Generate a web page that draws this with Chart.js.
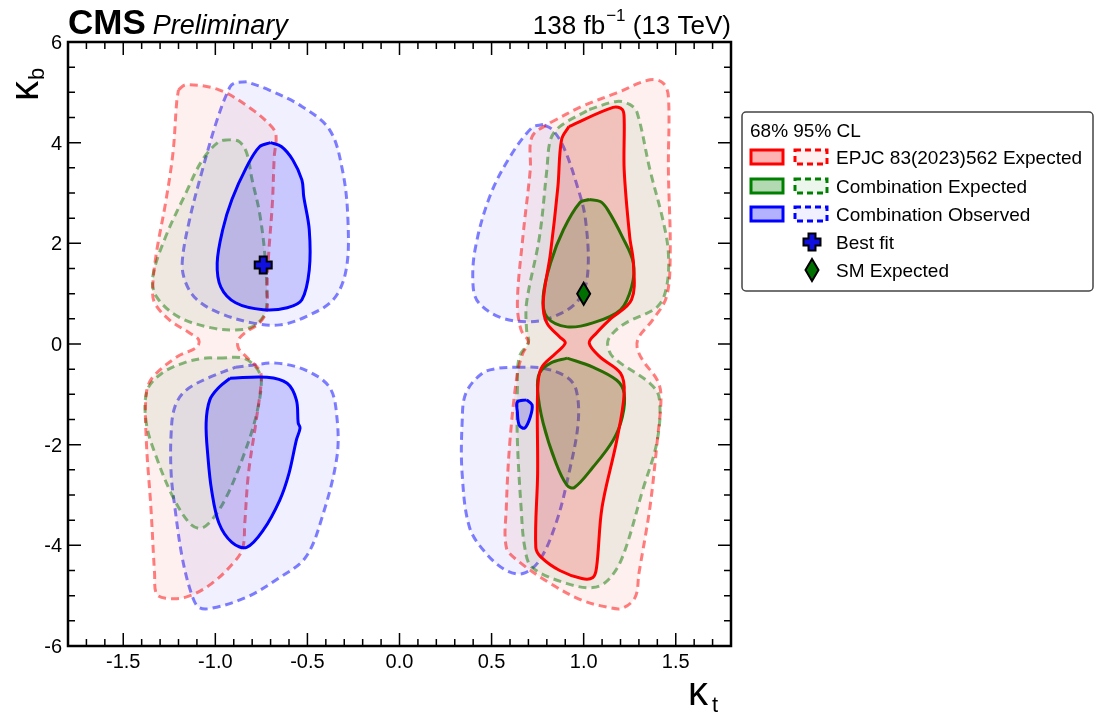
<!DOCTYPE html>
<html>
<head>
<meta charset="utf-8">
<script src="https://cdn.jsdelivr.net/npm/chart.js@4/dist/chart.umd.min.js"></script>
<style>
  body { margin: 0; background: #fff; }
  #wrap { width: 1095px; height: 713px; position: relative; }
</style>
</head>
<body>
<div id="wrap"><canvas id="chart"></canvas></div>
<script>
// contour points [kappa_t, kappa_b]
const red95Left = [[-1.20,5.05],[-1.16,5.15],[-0.98,5.05],[-0.80,4.66],[-0.69,4.30],[-0.67,4.12],[-0.68,3.72],[-0.69,2.81],[-0.71,1.81],[-0.72,1.13],[-0.72,0.68],[-0.76,0.42],[-0.84,0.22],[-0.875,0.08],[-0.875,-0.08],[-0.83,-0.26],[-0.76,-0.52],[-0.75,-0.72],[-0.78,-1.57],[-0.82,-2.57],[-0.84,-3.56],[-0.85,-4.04],[-0.89,-4.30],[-1.02,-4.76],[-1.16,-5.03],[-1.27,-5.05],[-1.32,-4.96],[-1.33,-4.56],[-1.35,-3.24],[-1.375,-1.91],[-1.375,-0.98],[-1.34,-0.66],[-1.21,-0.26],[-1.10,-0.06],[-1.09,0.08],[-1.14,0.22],[-1.25,0.48],[-1.33,0.82],[-1.34,1.13],[-1.32,1.81],[-1.27,2.81],[-1.23,3.80],[-1.21,4.80]];
const red95Right = [[0.82,4.40],[0.99,4.72],[1.18,4.99],[1.36,5.25],[1.43,5.19],[1.46,4.92],[1.46,3.46],[1.47,1.81],[1.45,0.94],[1.375,0.48],[1.30,0.14],[1.29,-0.06],[1.32,-0.32],[1.40,-0.72],[1.42,-1.05],[1.40,-1.91],[1.36,-3.24],[1.30,-4.56],[1.28,-5.03],[1.21,-5.25],[1.13,-5.23],[0.99,-5.09],[0.82,-4.76],[0.64,-4.30],[0.58,-4.04],[0.58,-3.24],[0.60,-1.91],[0.64,-0.58],[0.67,-0.18],[0.70,0.04],[0.66,0.28],[0.64,0.82],[0.67,2.13],[0.71,3.46],[0.72,4.12]];
const red68Right = [[0.92,4.32],[1.16,4.70],[1.21,4.66],[1.22,4.46],[1.22,3.46],[1.25,2.13],[1.27,1.61],[1.26,0.88],[1.14,0.48],[1.07,0.22],[1.03,0.02],[1.09,-0.26],[1.20,-0.58],[1.22,-0.98],[1.18,-1.91],[1.10,-3.24],[1.07,-4.44],[1.05,-4.64],[0.99,-4.66],[0.87,-4.50],[0.77,-4.24],[0.74,-4.04],[0.75,-2.57],[0.75,-0.92],[0.77,-0.48],[0.85,-0.18],[0.90,0.02],[0.87,0.14],[0.80,0.42],[0.78,0.82],[0.82,1.81],[0.86,3.12],[0.88,4.06]];

const green95UpLeft = [[-0.92,4.06],[-0.98,4.02],[-1.07,3.66],[-1.16,3.00],[-1.27,2.13],[-1.34,1.33],[-1.32,0.94],[-1.20,0.54],[-1.02,0.32],[-0.89,0.28],[-0.80,0.34],[-0.74,0.54],[-0.72,0.82],[-0.73,1.73],[-0.76,2.61],[-0.80,3.26],[-0.83,3.80],[-0.87,4.02]];
const green95LowLeft = [[-0.98,-0.28],[-0.85,-0.28],[-0.78,-0.46],[-0.75,-0.72],[-0.78,-1.45],[-0.85,-2.25],[-0.94,-3.04],[-1.02,-3.50],[-1.08,-3.66],[-1.14,-3.56],[-1.23,-3.04],[-1.32,-2.25],[-1.375,-1.57],[-1.37,-0.92],[-1.29,-0.58],[-1.16,-0.36],[-1.05,-0.28]];
const green95Right = [[1.03,4.66],[1.18,4.82],[1.25,4.76],[1.29,4.60],[1.36,3.46],[1.43,2.47],[1.46,1.81],[1.45,1.13],[1.40,0.74],[1.23,0.42],[1.16,0.22],[1.13,0.02],[1.16,-0.26],[1.36,-0.78],[1.41,-1.07],[1.40,-1.91],[1.32,-2.91],[1.21,-4.24],[1.13,-4.70],[1.05,-4.84],[0.91,-4.76],[0.72,-4.44],[0.68,-4.04],[0.66,-3.24],[0.64,-1.91],[0.64,-0.92],[0.65,-0.26],[0.70,0.04],[0.69,0.28],[0.69,0.82],[0.76,2.13],[0.80,3.46],[0.82,4.06],[0.87,4.32]];
const green68UpRight = [[1.03,2.87],[0.98,2.81],[0.89,2.27],[0.82,1.61],[0.78,0.94],[0.80,0.54],[0.91,0.34],[1.05,0.42],[1.20,0.68],[1.26,1.13],[1.27,1.61],[1.21,2.13],[1.13,2.67],[1.09,2.83]];
const green68LowRight = [[0.91,-0.28],[0.82,-0.38],[0.76,-0.58],[0.75,-0.92],[0.78,-1.57],[0.85,-2.37],[0.91,-2.81],[0.95,-2.85],[1.05,-2.45],[1.16,-1.91],[1.21,-1.45],[1.22,-0.98],[1.18,-0.72],[1.05,-0.46]];

const blue95UpLeft = [[-0.83,5.21],[-0.89,5.19],[-0.92,5.11],[-0.99,4.46],[-1.07,3.46],[-1.14,2.47],[-1.18,1.61],[-1.16,1.21],[-1.10,0.88],[-0.98,0.62],[-0.80,0.42],[-0.65,0.38],[-0.51,0.54],[-0.36,0.88],[-0.29,1.47],[-0.28,2.47],[-0.31,3.46],[-0.38,4.26],[-0.53,4.72],[-0.71,5.05]];
const blue95LowLeft = [[-0.89,-0.46],[-0.80,-0.42],[-0.67,-0.38],[-0.51,-0.52],[-0.38,-0.86],[-0.34,-1.45],[-0.34,-2.25],[-0.42,-3.44],[-0.51,-4.24],[-0.65,-4.64],[-0.83,-5.03],[-1.02,-5.25],[-1.09,-5.23],[-1.13,-4.96],[-1.18,-4.24],[-1.22,-3.24],[-1.24,-2.57],[-1.24,-1.77],[-1.22,-1.25],[-1.16,-0.92],[-1.03,-0.66]];
const blue95UpRight = [[0.78,4.36],[0.72,4.30],[0.60,3.72],[0.49,2.93],[0.41,1.87],[0.40,1.13],[0.43,0.82],[0.54,0.54],[0.69,0.44],[0.82,0.52],[0.96,0.82],[1.02,1.33],[1.01,2.47],[0.96,3.20],[0.89,3.92],[0.83,4.26]];
const blue95LowRight = [[0.64,-0.46],[0.78,-0.48],[0.91,-0.66],[0.96,-0.92],[0.97,-1.57],[0.92,-2.57],[0.85,-3.56],[0.76,-4.30],[0.67,-4.56],[0.58,-4.50],[0.47,-4.16],[0.38,-3.64],[0.34,-2.57],[0.34,-1.57],[0.36,-0.98],[0.45,-0.58],[0.54,-0.48]];
const blue68UpLeft = [[-0.70,4.00],[-0.76,3.92],[-0.83,3.52],[-0.91,2.87],[-0.96,2.27],[-0.99,1.61],[-0.97,1.13],[-0.89,0.82],[-0.74,0.68],[-0.61,0.72],[-0.53,0.88],[-0.49,1.47],[-0.49,2.27],[-0.52,2.93],[-0.53,3.26],[-0.58,3.66],[-0.64,3.92]];
const blue68LowLeft = [[-0.92,-0.68],[-0.72,-0.66],[-0.61,-0.78],[-0.56,-1.11],[-0.55,-1.57],[-0.54,-1.67],[-0.56,-1.91],[-0.60,-2.57],[-0.65,-3.10],[-0.74,-3.70],[-0.83,-4.04],[-0.91,-3.94],[-0.98,-3.56],[-1.02,-2.91],[-1.04,-2.25],[-1.05,-1.57],[-1.03,-1.11],[-0.98,-0.86]];
const blue68Right = [[0.69,-1.11],[0.72,-1.21],[0.71,-1.45],[0.68,-1.67],[0.65,-1.61],[0.64,-1.35],[0.64,-1.15]];

const bestFit = [-0.74, 1.57];
const smExpected = [1.0, 1.0];

const xTicks = [-1.5, -1.0, -0.5, 0.0, 0.5, 1.0, 1.5];
const yTicks = [-6, -4, -2, 0, 2, 4, 6];
const legendLabels = ['EPJC 83(2023)562 Expected', 'Combination Expected', 'Combination Observed', 'Best fit', 'SM Expected'];

const FONT = '"Liberation Sans", Arial, Helvetica, sans-serif';

const styles = {
    red:   { line: '#ff0000', line95: 'rgba(255,0,0,0.5)',   fill68: 'rgba(255,0,0,0.16)', fill95: 'rgba(255,0,0,0.06)', box68: 'rgba(255,0,0,0.3)' },
    green: { line: '#008000', line95: 'rgba(0,128,0,0.5)',   fill68: 'rgba(0,128,0,0.18)', fill95: 'rgba(0,128,0,0.07)', box68: 'rgba(0,128,0,0.3)' },
    blue:  { line: '#0000ff', line95: 'rgba(0,0,255,0.5)',   fill68: 'rgba(0,0,255,0.17)', fill95: 'rgba(0,0,255,0.06)', box68: 'rgba(0,0,255,0.3)' }
};

function contour(points, color, level) {
    const s = styles[color];
    const closed = points.concat([points[0]]);
    const is95 = level === 95;
    return {
        data: closed.map(p => ({ x: p[0], y: p[1] })),
        showLine: true,
        fill: 'shape',
        backgroundColor: is95 ? s.fill95 : s.fill68,
        borderColor: is95 ? s.line95 : s.line,
        borderWidth: 3,
        borderDash: is95 ? [8, 5] : [],
        pointRadius: 0,
        tension: 0.35,
        order: is95 ? 2 : 1
    };
}

const datasets = [
    contour(red95Left, 'red', 95),
    contour(red95Right, 'red', 95),
    contour(green95UpLeft, 'green', 95),
    contour(green95LowLeft, 'green', 95),
    contour(green95Right, 'green', 95),
    contour(blue95UpLeft, 'blue', 95),
    contour(blue95LowLeft, 'blue', 95),
    contour(blue95UpRight, 'blue', 95),
    contour(blue95LowRight, 'blue', 95),
    contour(red68Right, 'red', 68),
    contour(green68UpRight, 'green', 68),
    contour(green68LowRight, 'green', 68),
    contour(blue68UpLeft, 'blue', 68),
    contour(blue68LowLeft, 'blue', 68),
    contour(blue68Right, 'blue', 68)
];

function plusPath(ctx, cx, cy, h, t) {
    ctx.beginPath();
    ctx.moveTo(cx - t, cy - h);
    ctx.lineTo(cx + t, cy - h);
    ctx.lineTo(cx + t, cy - t);
    ctx.lineTo(cx + h, cy - t);
    ctx.lineTo(cx + h, cy + t);
    ctx.lineTo(cx + t, cy + t);
    ctx.lineTo(cx + t, cy + h);
    ctx.lineTo(cx - t, cy + h);
    ctx.lineTo(cx - t, cy + t);
    ctx.lineTo(cx - h, cy + t);
    ctx.lineTo(cx - h, cy - t);
    ctx.lineTo(cx - t, cy - t);
    ctx.closePath();
}

function drawCross(ctx, cx, cy) {
    plusPath(ctx, cx, cy, 8.5, 3.5);
    ctx.fillStyle = '#1010e0';
    ctx.fill();
    ctx.lineWidth = 2;
    ctx.strokeStyle = '#000';
    ctx.setLineDash([]);
    ctx.stroke();
}

function drawDiamond(ctx, cx, cy) {
    ctx.beginPath();
    ctx.moveTo(cx, cy - 11);
    ctx.lineTo(cx + 6.5, cy);
    ctx.lineTo(cx, cy + 11);
    ctx.lineTo(cx - 6.5, cy);
    ctx.closePath();
    ctx.fillStyle = '#007000';
    ctx.fill();
    ctx.lineWidth = 2;
    ctx.strokeStyle = '#000';
    ctx.setLineDash([]);
    ctx.stroke();
}

const decorations = {
    id: 'decorations',
    afterDatasetsDraw(chart) {
        const { ctx, chartArea: a, scales: { x, y } } = chart;
        ctx.save();

        // markers
        drawCross(ctx, x.getPixelForValue(bestFit[0]), y.getPixelForValue(bestFit[1]));
        drawDiamond(ctx, x.getPixelForValue(smExpected[0]), y.getPixelForValue(smExpected[1]));

        // frame
        ctx.setLineDash([]);
        ctx.strokeStyle = '#000';
        ctx.lineWidth = 2.5;
        ctx.strokeRect(a.left, a.top, a.right - a.left, a.bottom - a.top);

        // ticks, all four sides, pointing in
        ctx.lineWidth = 1.5;
        ctx.beginPath();
        for (let i = -18; i <= 18; i++) {
            const px = x.getPixelForValue(i / 10);
            const len = (i % 5 === 0) ? 13 : 7;
            ctx.moveTo(px, a.bottom); ctx.lineTo(px, a.bottom - len);
            ctx.moveTo(px, a.top); ctx.lineTo(px, a.top + len);
        }
        for (let i = -12; i <= 12; i++) {
            const py = y.getPixelForValue(i / 2);
            const len = (i % 4 === 0) ? 13 : 7;
            ctx.moveTo(a.left, py); ctx.lineTo(a.left + len, py);
            ctx.moveTo(a.right, py); ctx.lineTo(a.right - len, py);
        }
        ctx.stroke();

        // tick labels
        ctx.fillStyle = '#000';
        ctx.font = '20px ' + FONT;
        ctx.textAlign = 'center';
        ctx.textBaseline = 'alphabetic';
        xTicks.forEach(v => ctx.fillText(v.toFixed(1), x.getPixelForValue(v), a.bottom + 22));
        ctx.textAlign = 'right';
        yTicks.forEach(v => ctx.fillText(String(v), a.left - 6, y.getPixelForValue(v) + 7));

        // axis titles
        ctx.textAlign = 'left';
        ctx.font = '40px ' + FONT;
        ctx.fillText('κ', 688, 705);
        ctx.font = '22px ' + FONT;
        ctx.fillText('t', 712, 712);

        ctx.save();
        ctx.translate(38, 101);
        ctx.rotate(-Math.PI / 2);
        ctx.font = '40px ' + FONT;
        ctx.fillText('κ', 0, 0);
        const kw = ctx.measureText('κ').width;
        ctx.font = '22px ' + FONT;
        ctx.fillText('b', kw + 1, 6);
        ctx.restore();

        // header
        ctx.font = 'bold 35px ' + FONT;
        ctx.fillText('CMS', a.left, 34);
        const cmsW = ctx.measureText('CMS').width;
        ctx.font = 'italic 27px ' + FONT;
        ctx.fillText('Preliminary', a.left + cmsW + 7, 34);

        ctx.font = '26px ' + FONT;
        const p1 = '138 fb', p3 = ' (13 TeV)';
        const w1 = ctx.measureText(p1).width, w3 = ctx.measureText(p3).width;
        ctx.font = '17px ' + FONT;
        const p2 = '−1';
        const w2 = ctx.measureText(p2).width;
        let tx = a.right - (w1 + w2 + w3 + 1);
        ctx.font = '26px ' + FONT;
        ctx.fillText(p1, tx, 34);
        ctx.font = '17px ' + FONT;
        ctx.fillText(p2, tx + w1 + 1, 21);
        ctx.font = '26px ' + FONT;
        ctx.fillText(p3, tx + w1 + w2 + 1, 34);

        // legend
        const L = { left: 742, top: 112, right: 1093, bottom: 291 };
        ctx.beginPath();
        ctx.roundRect(L.left, L.top, L.right - L.left, L.bottom - L.top, 4);
        ctx.fillStyle = '#fff';
        ctx.fill();
        ctx.lineWidth = 1.5;
        ctx.strokeStyle = '#444';
        ctx.stroke();

        ctx.fillStyle = '#000';
        ctx.font = '19px ' + FONT;
        ctx.fillText('68% 95% CL', 750, 137);

        const rows = [157, 186, 214, 242, 270];
        const colors = ['red', 'green', 'blue'];
        rows.forEach((ry, i) => {
            if (i < 3) {
                const s = styles[colors[i]];
                ctx.setLineDash([]);
                ctx.lineWidth = 3;
                ctx.fillStyle = s.box68;
                ctx.fillRect(751, ry - 7, 32, 14);
                ctx.strokeStyle = s.line;
                ctx.strokeRect(751, ry - 7, 32, 14);
                ctx.fillStyle = s.fill95;
                ctx.fillRect(795, ry - 7, 32, 14);
                ctx.setLineDash([6, 4]);
                ctx.strokeRect(795, ry - 7, 32, 14);
                ctx.setLineDash([]);
            } else if (i === 3) {
                drawCross(ctx, 812, ry);
            } else {
                drawDiamond(ctx, 812, ry);
            }
            ctx.fillStyle = '#000';
            ctx.font = '19px ' + FONT;
            ctx.fillText(legendLabels[i], 836, ry + 7);
        });

        ctx.restore();
    }
};

new Chart(document.getElementById('chart'), {
    type: 'scatter',
    data: { datasets },
    options: {
        responsive: true,
        maintainAspectRatio: false,
        animation: false,
        layout: { padding: { left: 68, top: 42, right: 364, bottom: 67 } },
        plugins: {
            legend: { display: false },
            tooltip: { enabled: false }
        },
        scales: {
            x: { type: 'linear', min: -1.8, max: 1.8, display: false },
            y: { type: 'linear', min: -6, max: 6, display: false }
        }
    },
    plugins: [decorations]
});
</script>
</body>
</html>
